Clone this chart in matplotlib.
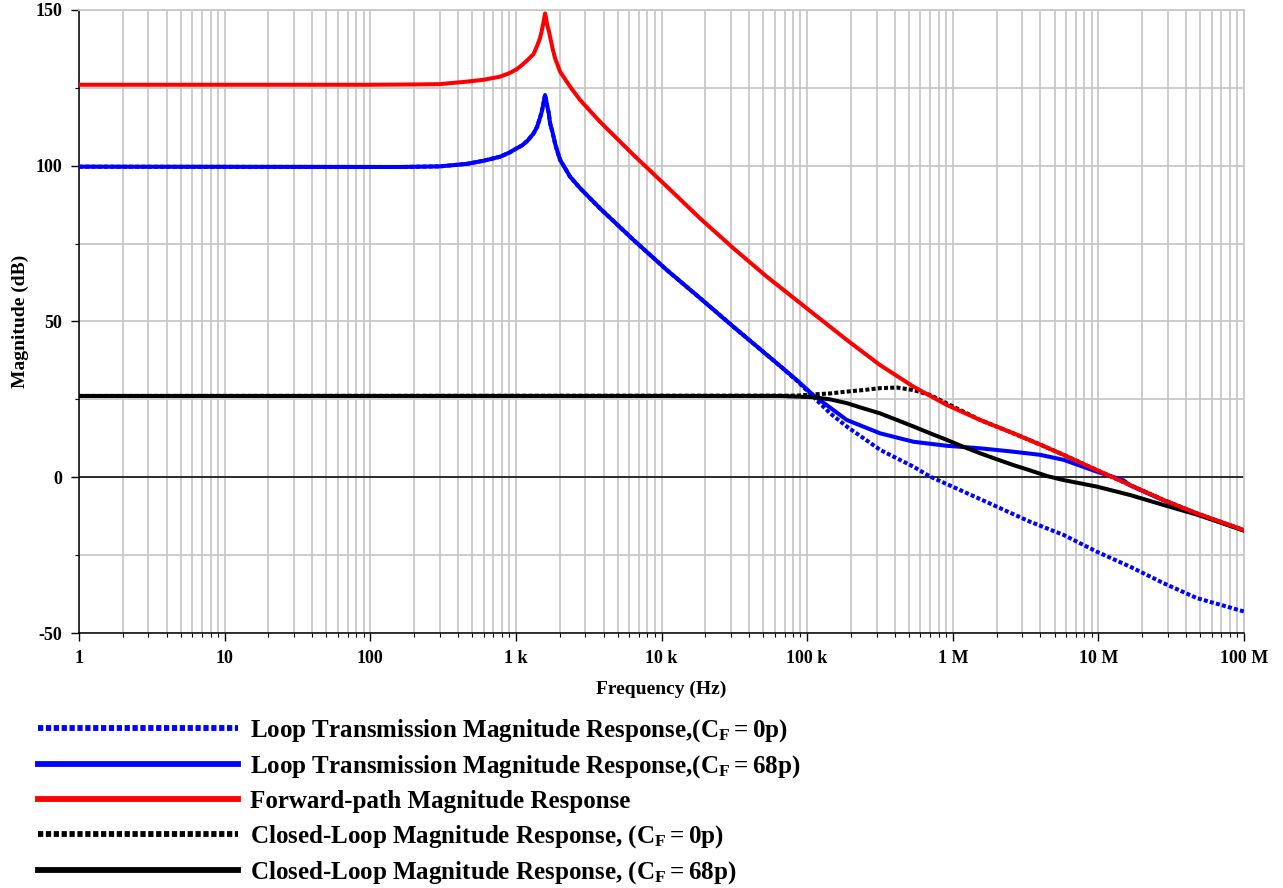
"""Bode magnitude plot: loop transmission, forward path and closed-loop responses."""

import matplotlib

matplotlib.use("Agg")
import matplotlib.pyplot as plt
from matplotlib.lines import Line2D
from matplotlib.ticker import FixedLocator, LogLocator, MultipleLocator, NullFormatter

plt.rcParams["font.family"] = ["Liberation Serif", "DejaVu Serif"]
plt.rcParams["font.weight"] = "bold"
plt.rcParams["axes.unicode_minus"] = False
plt.rcParams["mathtext.fontset"] = "custom"
plt.rcParams["mathtext.rm"] = "Liberation Serif:bold"
plt.rcParams["mathtext.it"] = "Liberation Serif:bold"

# ------------------------------------------------------------------ #
#  Data (frequency in Hz, magnitude in dB)
# ------------------------------------------------------------------ #
f_fwd = [1, 100, 200, 300, 460, 600, 779, 900, 1014, 1100, 1200, 1320, 1400,
         1466, 1500, 1540, 1560, 1587, 1610, 1640, 1680, 1718, 1780, 1858,
         1930, 2012, 2356, 2760, 3786, 6412, 10.9e3, 18.4e3, 31.2e3, 52.8e3,
         65.3e3, 110e3, 187e3, 317e3, 537e3, 910e3, 1.54e6, 2.61e6, 3.98e6,
         5.76e6, 9.75e6, 16.5e6, 28e6, 47.5e6, 100e6]
mag_fwd = [126.0, 126.0, 126.1, 126.2, 127.0, 127.6, 128.6, 129.7, 131.0, 132.3,
           133.9, 135.8, 138.5, 141.0, 143.0, 145.5, 147.0, 148.9, 147.5, 145.2,
           143.5, 141.4, 138.0, 134.5, 132.5, 130.2, 125.4, 121.1, 114.1, 103.5,
           93.3, 83.1, 73.5, 64.4, 61.0, 52.6, 44.1, 36.0, 29.1, 23.2, 18.4,
           14.1, 10.5, 7.2, 2.3, -2.5, -7.3, -11.6, -17.0]

f_loop_68p = [1, 160, 301, 460, 600, 779, 900, 1014, 1100, 1200, 1320, 1400,
              1466, 1500, 1540, 1560, 1587, 1610, 1640, 1680, 1718, 1780, 1858,
              1930, 2012, 2356, 2760, 3786, 6412, 10.9e3, 18.4e3, 31.2e3,
              65.3e3, 84.9e3, 110e3, 187e3, 317e3, 537e3, 910e3, 1.54e6,
              2.61e6, 3.98e6, 5.76e6, 9.75e6, 14.9e6, 16.5e6, 28e6, 47.5e6,
              100e6]
mag_loop_68p = [99.7, 99.6, 99.8, 100.6, 101.6, 102.9, 104.2, 105.6, 106.5,
                108.0, 110.3, 112.5, 115.5, 117.0, 119.5, 121.0, 122.7, 121.3,
                119.3, 117.0, 113.6, 111.0, 107.2, 104.5, 101.9, 96.5, 92.8,
                86.3, 76.2, 66.5, 57.5, 48.3, 35.7, 31.2, 26.4, 18.4, 14.1, 11.4,
                10.1, 9.3, 8.2, 7.2, 5.6, 1.8, -1.0, -2.6, -7.4, -11.7, -17.1]

f_loop_0p = [1, 160, 301, 460, 600, 779, 900, 1014, 1100, 1200, 1320, 1400,
             1466, 1500, 1540, 1560, 1587, 1610, 1640, 1680, 1718, 1780, 1858,
             1930, 2012, 2356, 2760, 3786, 6412, 10.9e3, 18.4e3, 31.2e3,
             65.3e3, 84.9e3, 110e3, 144e3, 187e3, 317e3, 537e3, 700e3, 1.54e6,
             3.4e6, 5.76e6, 9.75e6, 16.5e6, 28e6, 47.5e6, 100e6]
mag_loop_0p = [99.7, 99.6, 99.8, 100.6, 101.6, 102.9, 104.2, 105.6, 106.5,
               108.0, 110.3, 112.5, 115.5, 117.0, 119.5, 121.0, 122.7, 121.3,
               119.3, 117.0, 113.6, 111.0, 107.2, 104.5, 101.9, 96.5, 92.8,
               86.3, 76.2, 66.5, 57.5, 48.3, 35.7, 31.0, 25.9, 20.5, 16.3, 8.8,
               3.4, 0.2, -7.0, -14.3, -18.5, -23.9, -28.7, -34.0, -38.8, -43.1]

f_cl_0p = [1, 84.9e3, 110e3, 144e3, 187e3, 244e3, 317e3, 413e3, 537e3, 700e3,
           859e3, 1.54e6, 2.61e6, 3.98e6, 5.76e6, 9.75e6, 16.5e6, 28e6, 47.5e6,
           100e6]
mag_cl_0p = [26.1, 26.2, 26.6, 26.9, 27.5, 28.0, 28.6, 28.8, 28.0, 26.4, 24.3,
             18.4, 14.1, 10.5, 7.2, 2.3, -2.5, -7.3, -11.6, -17.0]

f_cl_68p = [1, 65.3e3, 110e3, 144e3, 187e3, 244e3, 317e3, 413e3, 537e3, 700e3,
            910e3, 1.18e6, 1.54e6, 2.0e6, 2.61e6, 3.4e6, 4.43e6, 5.76e6, 9.75e6,
            16.5e6, 28e6, 47.5e6, 100e6]
mag_cl_68p = [26.1, 26.1, 25.7, 25.0, 23.8, 22.1, 20.5, 18.4, 16.3, 14.1, 12.0,
              9.8, 7.7, 5.8, 3.9, 2.2, 0.4, -0.9, -3.0, -5.7, -8.9, -12.0, -17.1]

# trace peeking out just under the forward-path curve at the top end
f_extra = [40e6, 60e6, 100e6]
mag_extra = [-10.6, -13.8, -17.5]

x_ticks = [1, 10, 100, 1e3, 10e3, 100e3, 1e6, 10e6, 100e6]
x_tick_labels = ["1", "10", "100", "1 k", "10 k", "100 k", "1 M", "10 M", "100 M"]
y_ticks = [-50, 0, 50, 100, 150]

labels = [
    r"Loop Transmission Magnitude Response,$\mathregular{(C_F = 0p)}$",
    r"Loop Transmission Magnitude Response,$\mathregular{(C_F = 68p)}$",
    "Forward-path Magnitude Response",
    r"Closed-Loop Magnitude Response, $\mathregular{(C_F = 0p)}$",
    r"Closed-Loop Magnitude Response, $\mathregular{(C_F = 68p)}$",
]

BLUE = "#0000ff"
RED = "#ff0000"
BLACK = "#000000"
GRID = "#c8c8c8"
DOTS = (0, (1.0, 0.55))

# ------------------------------------------------------------------ #
#  Figure
# ------------------------------------------------------------------ #
fig = plt.figure(figsize=(12.83, 8.88), dpi=100)
ax = fig.add_axes([79 / 1283, 1 - 633 / 888, (1244 - 79) / 1283, (633 - 10) / 888])

lw = 2.9
ax.plot(f_extra, mag_extra, color="#00e000", lw=1.5, zorder=2)
ax.plot(f_loop_0p, mag_loop_0p, color=BLUE, lw=lw, ls=DOTS, zorder=3)
ax.plot(f_cl_0p, mag_cl_0p, color=BLACK, lw=lw, ls=DOTS, zorder=3)
ax.plot(f_loop_68p, mag_loop_68p, color=BLUE, lw=lw, zorder=4)
ax.plot(f_cl_68p, mag_cl_68p, color=BLACK, lw=lw, zorder=5)
ax.plot(f_fwd, mag_fwd, color=RED, lw=lw, zorder=6)

ax.axhline(0, color=BLACK, lw=1.1, zorder=2.5)

ax.set_xscale("log")
ax.set_xlim(1, 100e6)
ax.set_ylim(-50, 150)

ax.xaxis.set_major_locator(FixedLocator(x_ticks))
ax.set_xticklabels(x_tick_labels)
ax.xaxis.set_minor_locator(LogLocator(base=10, subs=range(2, 10), numticks=20))
ax.xaxis.set_minor_formatter(NullFormatter())
ax.yaxis.set_major_locator(FixedLocator(y_ticks))
ax.yaxis.set_minor_locator(MultipleLocator(25))

ax.grid(True, which="both", axis="x", color=GRID, lw=1.3, zorder=0)
ax.grid(True, which="both", axis="y", color=GRID, lw=1.3, zorder=0)
ax.set_axisbelow(True)

for side in ("top", "right"):
    ax.spines[side].set_color(GRID)
    ax.spines[side].set_linewidth(1.3)
for side in ("left", "bottom"):
    ax.spines[side].set_color(BLACK)
    ax.spines[side].set_linewidth(1.1)

ax.tick_params(axis="both", which="major", direction="out", length=6, width=1.0,
               labelsize=13, pad=6)
ax.tick_params(axis="both", which="minor", direction="out", length=3, width=0.8)
for lab in ax.get_xticklabels() + ax.get_yticklabels():
    lab.set_fontweight("bold")

ax.set_xlabel("Frequency (Hz)", fontsize=14, fontweight="bold", labelpad=10)
ax.set_ylabel("Magnitude (dB)", fontsize=14, fontweight="bold", labelpad=5)

# ------------------------------------------------------------------ #
#  Legend below the plot
# ------------------------------------------------------------------ #
handle_lw = 4.2
handles = [
    Line2D([], [], color=BLUE, lw=handle_lw, ls=(0, (0.9, 0.45))),
    Line2D([], [], color=BLUE, lw=handle_lw),
    Line2D([], [], color=RED, lw=handle_lw),
    Line2D([], [], color=BLACK, lw=handle_lw, ls=(0, (0.9, 0.45))),
    Line2D([], [], color=BLACK, lw=handle_lw),
]
fig.legend(handles, labels, loc="upper left", bbox_to_anchor=(28 / 1283, 1 - 707 / 888),
           frameon=False, fontsize=18, handlelength=8.0, handletextpad=0.5,
           labelspacing=0.39, borderaxespad=0)

fig.savefig("out.png", dpi=100)
